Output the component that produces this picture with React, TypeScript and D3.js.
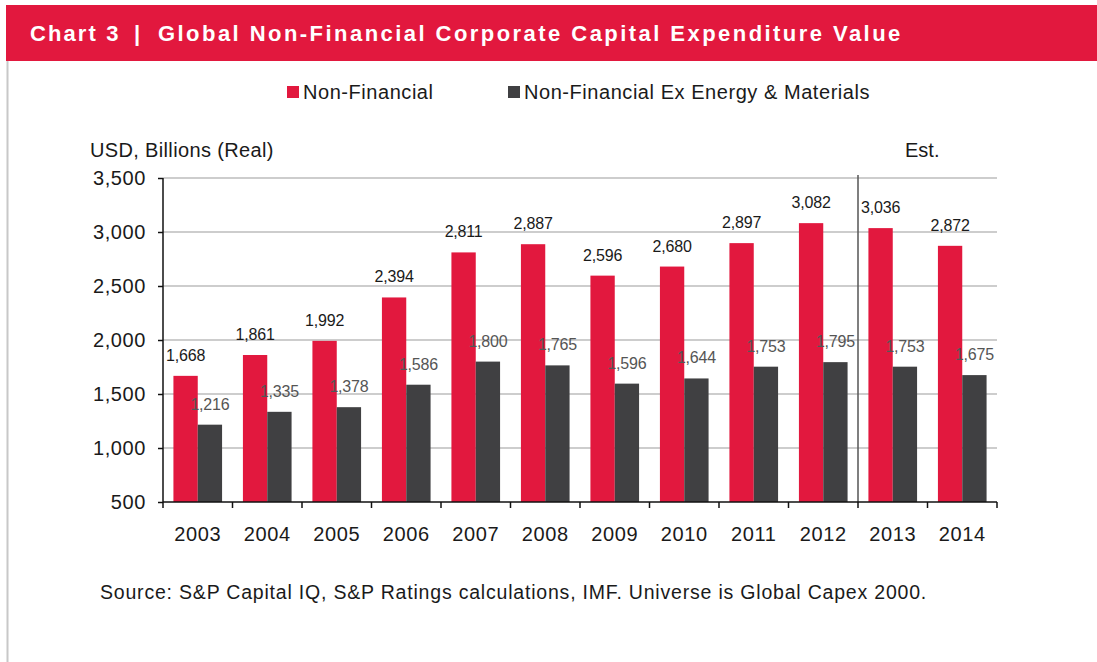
import React, { useEffect, useRef } from "react";
import * as d3 from "d3";

const years = ["2003", "2004", "2005", "2006", "2007", "2008", "2009", "2010", "2011", "2012", "2013", "2014"];
const nonFinancial = [1668, 1861, 1992, 2394, 2811, 2887, 2596, 2680, 2897, 3082, 3036, 2872];
const exEnergy = [1216, 1335, 1378, 1586, 1800, 1765, 1596, 1644, 1753, 1795, 1753, 1675];
const seriesNames = ["Non-Financial", "Non-Financial Ex Energy & Materials"];
const yTicks = [500, 1000, 1500, 2000, 2500, 3000, 3500];
const estimateFrom = "2013";

const RED = "#E2183E";
const DARK = "#404042";
const FONT = "'Liberation Sans', Arial, sans-serif";

const App: React.FC = () => {
  const svgRef = useRef<SVGSVGElement | null>(null);

  useEffect(() => {
    const width = 1097;
    const height = 662;
    const margin = { top: 178, right: 100, bottom: 160, left: 163 };

    const svg = d3.select(svgRef.current).attr("width", width).attr("height", height);
    svg.selectAll("*").remove();

    // header bar
    svg.append("rect").attr("x", 6).attr("y", 5).attr("width", width - 6).attr("height", 56).attr("fill", RED);
    const title = svg
      .append("text")
      .attr("y", 41)
      .attr("fill", "#fff")
      .style("font-family", FONT)
      .style("font-weight", "bold")
      .style("font-size", "22px")
      .style("letter-spacing", "2.1px");
    title.append("tspan").attr("x", 30).text("Chart 3");
    title.append("tspan").attr("x", 134).text("|");
    title.append("tspan").attr("x", 158).style("letter-spacing", "2.45px").text("Global Non-Financial Corporate Capital Expenditure Value");

    // left frame line
    svg.append("line").attr("x1", 7.5).attr("x2", 7.5).attr("y1", 61).attr("y2", height).attr("stroke", "#c8c8c8").attr("stroke-width", 2);

    const x0 = d3.scaleBand<string>().domain(years).range([margin.left, width - margin.right]);
    const bw = x0.bandwidth();
    const x1 = d3.scaleBand<number>().domain([0, 1]).range([bw * 0.15, bw * 0.85]);
    const y = d3.scaleLinear().domain([500, 3500]).range([height - margin.bottom, margin.top]);

    // gridlines
    svg
      .append("g")
      .selectAll("line")
      .data(yTicks.slice(1))
      .join("line")
      .attr("x1", margin.left)
      .attr("x2", width - margin.right)
      .attr("y1", (d) => y(d))
      .attr("y2", (d) => y(d))
      .attr("stroke", "#bdbdbd")
      .attr("stroke-width", 1.5);

    // estimate separator
    const sepX = x0(estimateFrom)!;
    svg.append("line").attr("x1", sepX).attr("x2", sepX).attr("y1", margin.top - 3).attr("y2", y(500)).attr("stroke", "#555").attr("stroke-width", 1.5);

    const series = [nonFinancial, exEnergy];
    const colors = [RED, DARK];
    const labelColors = ["#1a1a1a", "#555"];

    series.forEach((vals, si) => {
      const g = svg.append("g");
      g.selectAll("rect")
        .data(vals)
        .join("rect")
        .attr("x", (_, i) => x0(years[i])! + x1(si)!)
        .attr("width", x1.bandwidth())
        .attr("y", (d) => y(d))
        .attr("height", (d) => y(500) - y(d))
        .attr("fill", colors[si]);
      g.selectAll("text")
        .data(vals)
        .join("text")
        .attr("x", (_, i) => x0(years[i])! + x1(si)! + x1.bandwidth() / 2)
        .attr("y", (d) => y(d) - 15)
        .attr("text-anchor", "middle")
        .attr("fill", labelColors[si])
        .style("font-family", FONT)
        .style("font-size", "16px")
        .style("letter-spacing", "-0.2px")
        .text((d) => d3.format(",")(d));
    });

    // y axis
    const yAxis = svg
      .append("g")
      .attr("transform", `translate(${margin.left},0)`)
      .call(d3.axisLeft(y).tickValues(yTicks).tickFormat(d3.format(",")).tickSize(5).tickPadding(12));
    yAxis.selectAll("path, line").attr("stroke", "#111").attr("stroke-width", 1.5);
    yAxis.select(".domain").attr("d", `M0,${y(3500)}V${y(500)}`);
    yAxis
      .selectAll("text")
      .attr("fill", "#1a1a1a")
      .style("font-family", FONT)
      .style("font-size", "20px")
      .style("letter-spacing", "0.6px");

    // x axis
    const xAxis = svg.append("g").attr("transform", `translate(0,${y(500)})`);
    xAxis.append("line").attr("x1", margin.left).attr("x2", width - margin.right).attr("stroke", "#111").attr("stroke-width", 1.5);
    const boundaries = years.map((yr) => x0(yr)!).concat([width - margin.right]);
    xAxis
      .selectAll("line.tk")
      .data(boundaries)
      .join("line")
      .attr("class", "tk")
      .attr("x1", (d) => d)
      .attr("x2", (d) => d)
      .attr("y1", 0)
      .attr("y2", 6)
      .attr("stroke", "#111")
      .attr("stroke-width", 1.5);
    xAxis
      .selectAll("text")
      .data(years)
      .join("text")
      .attr("x", (d) => x0(d)! + bw / 2)
      .attr("y", 39)
      .attr("text-anchor", "middle")
      .attr("fill", "#1a1a1a")
      .style("font-family", FONT)
      .style("font-size", "20px")
      .style("letter-spacing", "0.6px")
      .text((d) => d);

    // axis titles
    svg
      .append("text")
      .attr("x", 90)
      .attr("y", 157)
      .attr("fill", "#1a1a1a")
      .style("font-family", FONT)
      .style("font-size", "20px")
      .style("letter-spacing", "0.35px")
      .text("USD, Billions (Real)");
    svg
      .append("text")
      .attr("x", 905)
      .attr("y", 157)
      .attr("fill", "#1a1a1a")
      .style("font-family", FONT)
      .style("font-size", "20px")
      .text("Est.");

    // legend
    const legendX = [287, 508];
    seriesNames.forEach((name, i) => {
      svg.append("rect").attr("x", legendX[i]).attr("y", 86).attr("width", 12).attr("height", 12).attr("fill", colors[i]);
      svg
        .append("text")
        .attr("x", legendX[i] + 16)
        .attr("y", 99)
        .attr("fill", "#1a1a1a")
        .style("font-family", FONT)
        .style("font-size", "20px")
        .style("letter-spacing", "0.55px")
        .text(name);
    });

    // source
    svg
      .append("text")
      .attr("x", 100)
      .attr("y", 599)
      .attr("fill", "#1a1a1a")
      .style("font-family", FONT)
      .style("font-size", "19.5px")
      .style("letter-spacing", "0.8px")
      .text("Source: S&P Capital IQ, S&P Ratings calculations, IMF. Universe is Global Capex 2000.");
  }, []);

  return (
    <div style={{ position: "absolute", left: 0, top: 0 }}>
      <svg ref={svgRef} style={{ display: "block", background: "#fff" }} />
    </div>
  );
};

export default App;
